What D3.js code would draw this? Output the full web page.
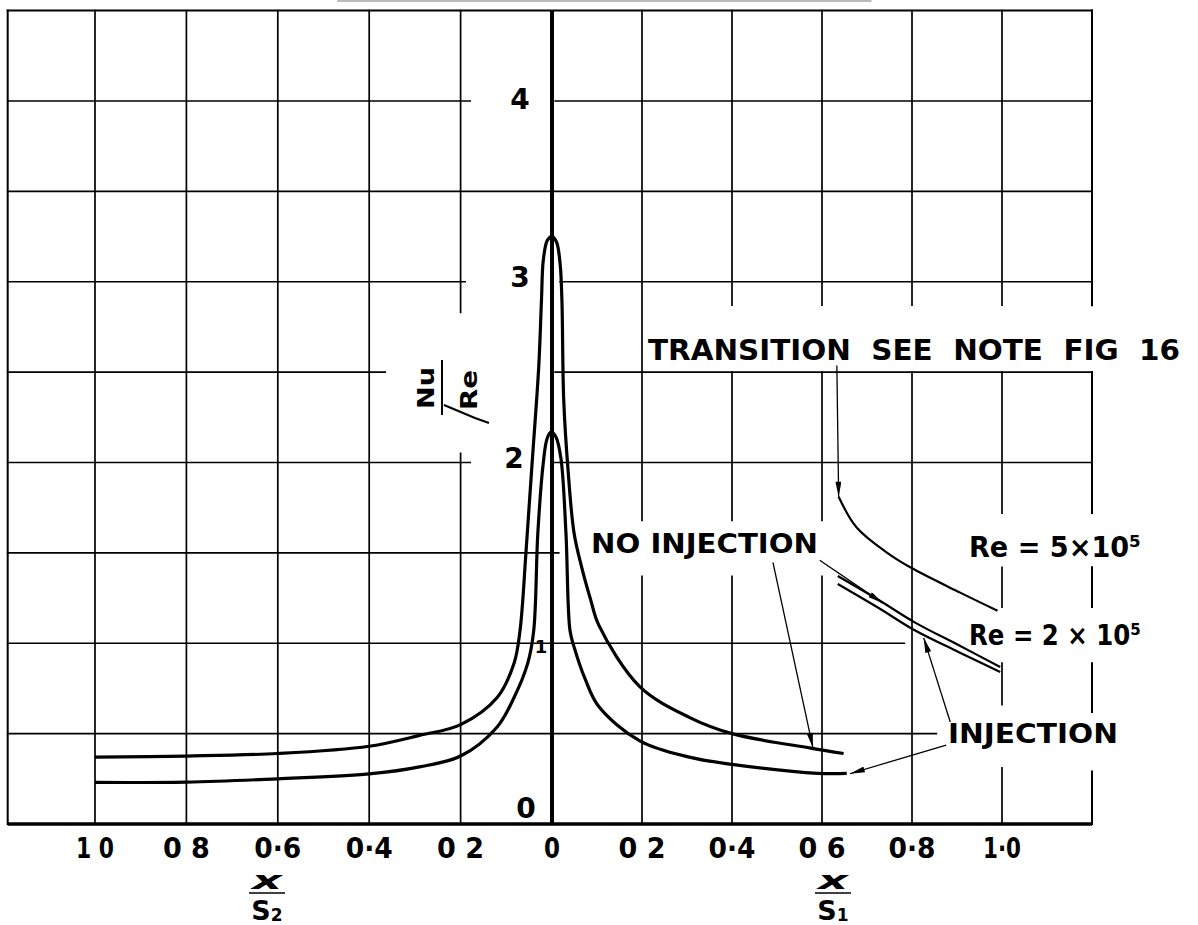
<!DOCTYPE html>
<html>
<head>
<meta charset="utf-8">
<script src="https://cdn.jsdelivr.net/npm/d3@7"></script>
<style>
  body { margin: 0; background: #fff; }
  svg { display: block; }
  text { font-family: "DejaVu Sans", sans-serif; font-weight: bold; fill: #000; }
</style>
</head>
<body>
<svg id="chart"></svg>
<script>
// x/S2 side is drawn as negative x, x/S1 side as positive x
var xTicks = [-1.0, -0.8, -0.6, -0.4, -0.2, 0, 0.2, 0.4, 0.6, 0.8, 1.0];
var xTickLabels = ["1 0", "0 8", "0·6", "0·4", "0 2", "0", "0 2", "0·4", "0 6", "0·8", "1·0"];
var yTicks = [0, 1, 2, 3, 4];
var yTickLabels = ["0", "1", "2", "3", "4"];

// taller peak, continues as the "no injection" curve on the S1 side
var noInjection = [
  [-1.0, 0.37], [-0.8, 0.376], [-0.6, 0.39], [-0.4, 0.43], [-0.29, 0.49], [-0.2, 0.55],
  [-0.12, 0.70], [-0.083, 0.89], [-0.07, 1.07], [-0.057, 1.50], [-0.044, 1.98],
  [-0.029, 2.53], [-0.023, 2.9], [-0.019, 3.12], [-0.01, 3.23], [0.0, 3.25],
  [0.01, 3.22], [0.018, 3.1], [0.022, 2.9], [0.026, 2.35], [0.035, 1.98],
  [0.049, 1.61], [0.066, 1.42], [0.086, 1.24], [0.104, 1.1], [0.195, 0.76],
  [0.305, 0.59], [0.40, 0.50], [0.575, 0.42], [0.648, 0.39]
];

// lower peak, the "injection" curve
var injection = [
  [-1.0, 0.23], [-0.8, 0.232], [-0.6, 0.25], [-0.4, 0.277], [-0.29, 0.316], [-0.2, 0.376],
  [-0.12, 0.537], [-0.083, 0.70], [-0.053, 0.89], [-0.04, 1.07], [-0.031, 1.61],
  [-0.019, 2.0], [-0.011, 2.13], [-0.002, 2.17], [0.009, 2.14], [0.02, 2.02],
  [0.031, 1.61], [0.04, 1.07], [0.049, 0.98], [0.074, 0.80], [0.104, 0.65],
  [0.195, 0.46], [0.305, 0.37], [0.40, 0.33], [0.59, 0.28], [0.655, 0.28]
];

// after transition
var re5 = [[0.637, 1.81], [0.677, 1.64], [0.745, 1.50], [0.796, 1.42], [0.907, 1.28], [0.99, 1.18]];
var re2NoInjection = [[0.635, 1.372], [0.726, 1.239], [0.805, 1.117], [0.903, 0.99], [0.996, 0.869]];
var re2Injection = [[0.635, 1.328], [0.726, 1.195], [0.805, 1.073], [0.903, 0.952], [0.996, 0.841]];

// leader lines: [from, to] in chart units
var leaders = [
  [[0.633, 2.537], [0.637, 1.81]],   // transition
  [[0.595, 1.459], [0.735, 1.222]],  // no injection -> Re 2e5
  [[0.491, 1.448], [0.580, 0.42]],   // no injection -> main curve
  [[0.885, 0.564], [0.826, 1.03]],   // injection -> Re 2e5
  [[0.876, 0.437], [0.662, 0.278]]   // injection -> main curve
];

d3stuff();

function d3stuff() {
  var width = 1198;
  var height = 925;

  var svg = d3.select("#chart")
    .attr("width", width)
    .attr("height", height);

  // hand ruled grid is a little uneven, so a few stops
  var x = d3.scaleLinear()
    .domain([-1.2, -1.0, 0, 1.0, 1.2])
    .range([7.7, 95, 552, 1002, 1092]);
  var y = d3.scaleLinear()
    .domain([0, 4.5])
    .range([824, 10.6]);

  svg.append("defs").append("marker")
    .attr("id", "head")
    .attr("viewBox", "0 0 10 4")
    .attr("refX", 10)
    .attr("refY", 2)
    .attr("markerUnits", "userSpaceOnUse")
    .attr("markerWidth", 16)
    .attr("markerHeight", 6)
    .attr("orient", "auto")
    .append("path")
      .attr("d", "M0,0 L10,2 L0,4 Z")
      .attr("fill", "#000");

  // faint rule left over at the very top of the scan
  svg.append("line")
    .attr("x1", x(-0.47)).attr("x2", x(0.71))
    .attr("y1", 1).attr("y2", 1)
    .attr("stroke", "#bbb").attr("stroke-width", 2);

  // grid, with the breaks where lettering sits
  var vert = {
    "-1.2": [[0, 4.5]], "-1": [[0, 4.5]], "-0.8": [[0, 4.5]], "-0.6": [[0, 4.5]], "-0.4": [[0, 4.5]],
    "-0.2": [[0, 2.05], [2.83, 4.5]],
    "0.2": [[0, 1.37], [1.68, 4.5]],
    "0.4": [[0, 1.37], [1.68, 2.5], [2.87, 4.5]],
    "0.6": [[0, 1.37], [1.68, 2.5], [2.87, 4.5]],
    "0.8": [[0, 2.5], [2.87, 4.5]],
    "1": [[0, 0.31], [0.66, 0.89], [1.2, 1.42], [1.72, 2.5], [2.87, 4.5]],
    "1.2": [[0, 0.29], [0.62, 0.89], [1.2, 1.42], [1.72, 2.5], [2.87, 4.5]]
  };
  var horiz = {
    "4.5": [[-1.2, 1.2]],
    "4": [[-1.2, -0.179], [0.007, 1.2]],
    "3.5": [[-1.2, 1.2]],
    "3": [[-1.2, -0.19], [0.018, 1.2]],
    "2.5": [[-1.2, -0.365], [0.007, 1.2]],
    "2": [[-1.2, -0.179], [0.0, 1.2]],
    "1.5": [[-1.2, 0.015]],
    "1": [[-1.2, 0.783]],
    "0.5": [[-1.2, 0.854]]
  };

  var grid = svg.append("g")
    .attr("stroke", "#000")
    .attr("stroke-width", 1.7)
    .attr("stroke-linecap", "square");

  Object.keys(vert).forEach(function(k) {
    vert[k].forEach(function(s) {
      grid.append("line")
        .attr("x1", x(+k)).attr("x2", x(+k))
        .attr("y1", y(s[0])).attr("y2", y(s[1]))
        .attr("stroke-width", (k == "-1.2" || k == "1.2") ? 2 : 1.7);
    });
  });
  Object.keys(horiz).forEach(function(k) {
    horiz[k].forEach(function(s) {
      grid.append("line")
        .attr("x1", x(s[0])).attr("x2", x(s[1]))
        .attr("y1", y(+k)).attr("y2", y(+k))
        .attr("stroke-width", k == "4.5" ? 2 : 1.7);
    });
  });

  // the two heavy axes
  svg.append("line")
    .attr("x1", x(0)).attr("x2", x(0))
    .attr("y1", y(4.5)).attr("y2", y(0))
    .attr("stroke", "#000").attr("stroke-width", 4);
  svg.append("line")
    .attr("x1", x(-1.2)).attr("x2", x(1.2))
    .attr("y1", y(0)).attr("y2", y(0))
    .attr("stroke", "#000").attr("stroke-width", 3.5);

  var line = d3.line()
    .x(function(d) { return x(d[0]); })
    .y(function(d) { return y(d[1]); })
    .curve(d3.curveCatmullRom.alpha(0.5));

  [noInjection, injection].forEach(function(s) {
    svg.append("path")
      .attr("d", line(s))
      .attr("fill", "none")
      .attr("stroke", "#000")
      .attr("stroke-width", 3.2)
      .attr("stroke-linejoin", "round");
  });
  [re5, re2NoInjection, re2Injection].forEach(function(s) {
    svg.append("path")
      .attr("d", line(s))
      .attr("fill", "none")
      .attr("stroke", "#000")
      .attr("stroke-width", 2.2);
  });

  leaders.forEach(function(l) {
    svg.append("line")
      .attr("x1", x(l[0][0])).attr("y1", y(l[0][1]))
      .attr("x2", x(l[1][0])).attr("y2", y(l[1][1]))
      .attr("stroke", "#000")
      .attr("stroke-width", 1.3)
      .attr("marker-end", "url(#head)");
  });

  // tick labels
  svg.selectAll("text.xt")
      .data(xTicks)
    .enter().append("text")
      .attr("class", "xt")
      .attr("x", function(d) { return x(d); })
      .attr("y", 858)
      .attr("text-anchor", "middle")
      .attr("font-size", 28)
      .attr("textLength", function(d, i) {
        var t = xTickLabels[i];
        if (t == "0") return 16;
        return t.charAt(0) == "1" ? 38 : 47;
      })
      .attr("lengthAdjust", "spacingAndGlyphs")
      .text(function(d, i) { return xTickLabels[i]; });

  // y labels sit just left of the axis, nudged off the curves
  var yOff = { 0: [-26, -16], 1: [-11, 3], 2: [-38, -5], 3: [-32, -5], 4: [-32, -2] };
  svg.selectAll("text.yt")
      .data(yTicks)
    .enter().append("text")
      .attr("class", "yt")
      .attr("x", function(d) { return x(0) + yOff[d][0]; })
      .attr("y", function(d) { return y(d) + yOff[d][1]; })
      .attr("dy", "0.36em")
      .attr("text-anchor", "middle")
      .attr("font-size", function(d) { return d == 1 ? 18 : 28; })
      .text(function(d, i) { return yTickLabels[i]; });

  // x / S fractions under the axis
  function frac(cx, sub) {
    var g = svg.append("g").attr("transform", "translate(" + cx + ",0)");
    g.append("text")
      .attr("x", 0).attr("y", 889)
      .attr("text-anchor", "middle")
      .attr("font-family", "DejaVu Serif")
      .attr("font-style", "italic")
      .attr("font-size", 25)
      .attr("textLength", 30)
      .attr("lengthAdjust", "spacingAndGlyphs")
      .text("x");
    g.append("line")
      .attr("x1", -18).attr("x2", 18)
      .attr("y1", 893).attr("y2", 893)
      .attr("stroke", "#000").attr("stroke-width", 1.6);
    var s = g.append("text")
      .attr("x", 0).attr("y", 920)
      .attr("text-anchor", "middle")
      .attr("font-size", 27);
    s.append("tspan").text("S");
    s.append("tspan")
      .attr("font-size", 17)
      .attr("dy", 1)
      .text(sub);
  }
  frac(267, "2");
  frac(833, "1");

  // Nu / sqrt(Re), lettered sideways
  var yl = svg.append("g").attr("transform", "translate(442,390) rotate(-90)");
  yl.append("text")
    .attr("x", 2).attr("y", -8)
    .attr("text-anchor", "middle")
    .attr("font-size", 23)
    .attr("textLength", 42)
    .attr("lengthAdjust", "spacingAndGlyphs")
    .text("Nu");
  yl.append("line")
    .attr("x1", -25).attr("x2", 30)
    .attr("y1", 0).attr("y2", 0)
    .attr("stroke", "#000").attr("stroke-width", 2);
  yl.append("text")
    .attr("x", 0).attr("y", 35)
    .attr("text-anchor", "middle")
    .attr("font-size", 23)
    .attr("textLength", 40)
    .attr("lengthAdjust", "spacingAndGlyphs")
    .text("Re");
  yl.append("path")
    .attr("d", "M-15,2 L-28,33 L-33,47")
    .attr("fill", "none")
    .attr("stroke", "#000")
    .attr("stroke-width", 2);

  // annotations
  function note(txt, x0, base, size, len) {
    svg.append("text")
      .attr("x", x0).attr("y", base)
      .attr("font-size", size)
      .attr("textLength", len)
      .attr("lengthAdjust", "spacingAndGlyphs")
      .attr("xml:space", "preserve")
      .text(txt);
  }
  note("TRANSITION  SEE  NOTE  FIG  16", 648, 360, 29, 532);
  note("NO INJECTION", 591, 553, 27, 227);
  note("INJECTION", 948, 743, 26, 170);
  note("Re = 5×10⁵", 969, 557, 29, 172);
  note("Re = 2 × 10⁵", 969, 645, 29, 172);
}
</script>
</body>
</html>
